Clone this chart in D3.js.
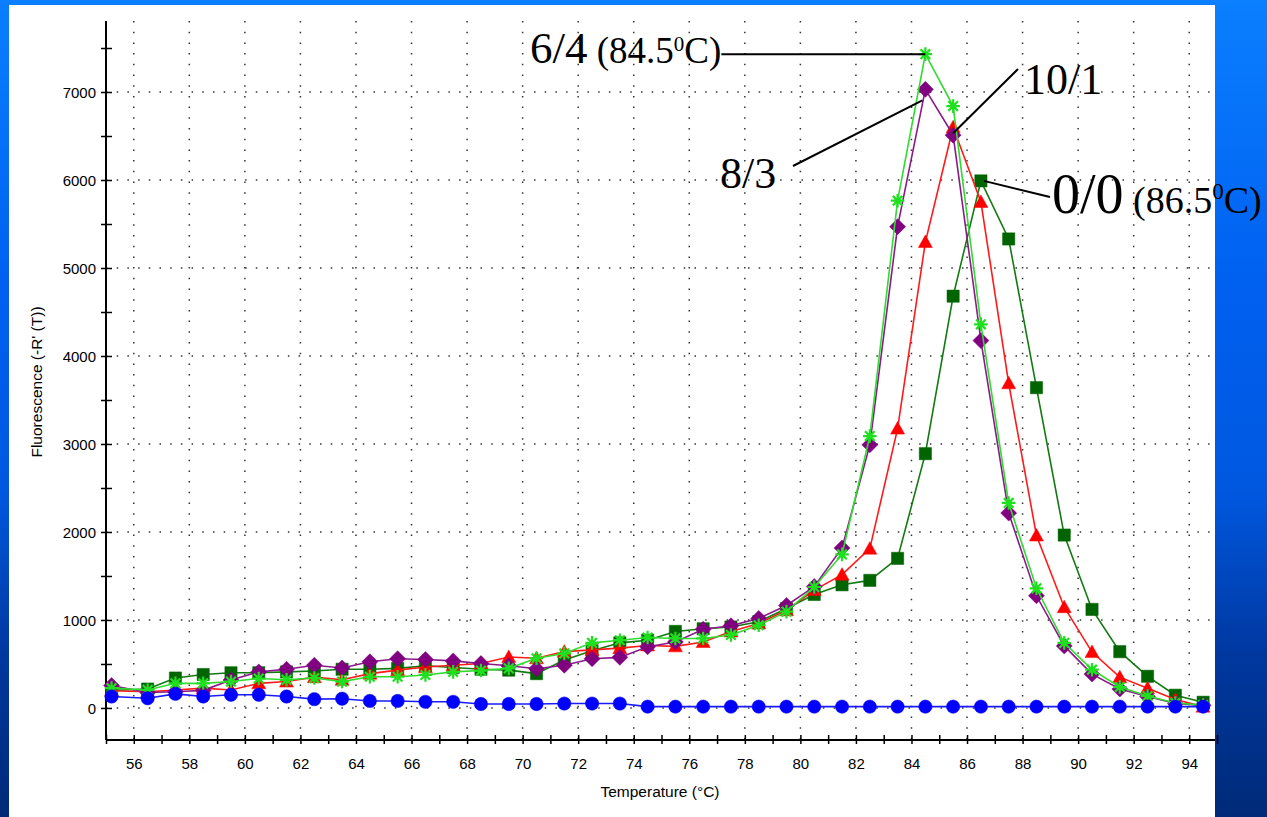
<!DOCTYPE html>
<html>
<head>
<meta charset="utf-8">
<script src="https://cdn.jsdelivr.net/npm/d3@7"></script>
<style>
  html, body { margin: 0; padding: 0; }
  body { width: 1267px; height: 817px; overflow: hidden; }
  svg { display: block; }
  .tick text { font-family: "Liberation Sans", Arial, sans-serif; font-size: 15px; fill: #000; }
  .note { font-family: "Liberation Serif", "Times New Roman", serif; fill: #000; }
</style>
</head>
<body>
<svg id="chart"></svg>
<script>
// melt curve data (-R'(T) vs temperature)
const temps = [55.2, 56.5, 57.5, 58.5, 59.5, 60.5, 61.5, 62.5, 63.5, 64.5,
  65.5, 66.5, 67.5, 68.5, 69.5, 70.5, 71.5, 72.5, 73.5, 74.5,
  75.5, 76.5, 77.5, 78.5, 79.5, 80.5, 81.5, 82.5, 83.5, 84.5,
  85.5, 86.5, 87.5, 88.5, 89.5, 90.5, 91.5, 92.5, 93.5, 94.5];

const blueValues = [130, 110, 160, 130, 150, 150, 130, 100, 105, 80,
  80, 70, 70, 45, 45, 45, 50, 50, 50, 15,
  15, 15, 15, 15, 15, 15, 15, 15, 15, 15,
  15, 15, 15, 15, 15, 15, 15, 15, 15, 15];

const darkGreenValues = [200, 215, 340, 380, 400, 400, 410, 420, 440, 440,
  450, 480, 460, 440, 430, 390, 545, 650, 740, 770,
  870, 900, 920, 980, 1130, 1290, 1400, 1450, 1700, 2890,
  4680, 5990, 5330, 3640, 1965, 1120, 640, 360, 145, 65];

const redValues = [195, 185, 205, 225, 205, 280, 300, 350, 320, 390,
  430, 465, 485, 505, 580, 565, 640, 660, 680, 710,
  700, 750, 870, 960, 1110, 1340, 1515, 1810, 3175, 5295,
  6600, 5750, 3690, 1960, 1145, 635, 350, 225, 95, 15];

const purpleValues = [255, 175, 185, 200, 318, 410, 440, 485, 455, 525,
  560, 550, 535, 505, 480, 445, 485, 560, 575, 695,
  750, 895, 935, 1018, 1165, 1380, 1818, 2990, 5470, 7030,
  6510, 4175, 2215, 1275, 705, 385, 215, 130, 50, 30];

const brightGreenValues = [225, 205, 280, 280, 300, 335, 320, 340, 300, 355,
  355, 375, 410, 425, 450, 565, 620, 740, 770, 800,
  790, 790, 830, 940, 1095, 1375, 1745, 3090, 5765, 7430,
  6840, 4360, 2330, 1360, 740, 435, 238, 136, 57, 32];

const xTicks = [55, 56, 57, 58, 59, 60, 61, 62, 63, 64, 65, 66, 67, 68, 69, 70, 71, 72, 73, 74, 75,
  76, 77, 78, 79, 80, 81, 82, 83, 84, 85, 86, 87, 88, 89, 90, 91, 92, 93, 94, 95];
const xGrid = [56, 58, 60, 62, 64, 66, 68, 70, 72, 74, 76, 78, 80, 82, 84, 86, 88, 90, 92, 94];
const yTicks = [0, 500, 1000, 1500, 2000, 2500, 3000, 3500, 4000, 4500, 5000, 5500, 6000, 6500, 7000, 7500];
const yGrid = [0, 1000, 2000, 3000, 4000, 5000, 6000, 7000];

const series = [
  { name: "0/0", values: darkGreenValues, color: "#006400", line: "#127a12", marker: "square" },
  { name: "10/1", values: redValues, color: "#ff0000", line: "#ff1a1a", marker: "triangle" },
  { name: "8/3", values: purpleValues, color: "#800080", line: "#8a1a8a", marker: "diamond" },
  { name: "6/4", values: brightGreenValues, color: "#1ee01e", line: "#2fdc2f", marker: "star" },
  { name: "blank", values: blueValues, color: "#0000ff", line: "#1a1aff", marker: "circle" },
];

const width = 1267, height = 817;
const svg = d3.select("#chart").attr("width", width).attr("height", height);

// slide background
const defs = svg.append("defs");
const bg = defs.append("linearGradient").attr("id", "bg").attr("x1", 0).attr("y1", 0).attr("x2", 0).attr("y2", 1);
bg.append("stop").attr("offset", "0%").attr("stop-color", "#0a7fff");
bg.append("stop").attr("offset", "35%").attr("stop-color", "#0060f0");
bg.append("stop").attr("offset", "60%").attr("stop-color", "#0058e0");
bg.append("stop").attr("offset", "80%").attr("stop-color", "#0038a0");
bg.append("stop").attr("offset", "100%").attr("stop-color", "#002a78");
svg.append("rect").attr("width", width).attr("height", height).attr("fill", "url(#bg)");
svg.append("rect").attr("x", 9).attr("y", 5).attr("width", 1206).attr("height", 812).attr("fill", "#fff");

const x = d3.scaleLinear().domain([55, 95]).range([106, 1217]);
const y = d3.scaleLinear().domain([-364, 7807]).range([740, 21]);

// dotted grid
const grid = svg.append("g").attr("stroke", "#333").attr("stroke-width", 1.5)
  .attr("stroke-dasharray", "1.5 9.2");
grid.selectAll("line.v").data(xGrid).join("line").attr("class", "v")
  .attr("x1", d => x(d)).attr("x2", d => x(d)).attr("y1", y.range()[1]).attr("y2", y.range()[0]);
grid.selectAll("line.h").data(yGrid).join("line").attr("class", "h")
  .attr("x1", x.range()[0]).attr("x2", 1215).attr("y1", d => y(d)).attr("y2", d => y(d));

// axes
const xAxis = svg.append("g").attr("transform", `translate(0,${y.range()[0]})`)
  .call(d3.axisBottom(x).tickValues(xTicks).tickSize(4).tickPadding(14)
    .tickFormat(d => (d % 2 === 0 && d > 55 && d < 95) ? d : ""));
xAxis.select(".domain").attr("d", `M${x.range()[0]},0H1215`).attr("stroke-width", 2);
xAxis.selectAll(".tick line").attr("y1", -5).attr("stroke-width", 1.5);

const yAxis = svg.append("g").attr("transform", `translate(${x.range()[0]},0)`)
  .call(d3.axisLeft(y).tickValues(yTicks).tickSize(5).tickPadding(5)
    .tickFormat(d => d % 1000 === 0 ? d : ""));
yAxis.select(".domain").attr("d", `M0,${y.range()[1]}V${y.range()[0]}`).attr("stroke-width", 2);
yAxis.selectAll(".tick line").attr("x1", 6).attr("stroke-width", 1.5);
yAxis.selectAll(".tick text").attr("dy", "0.36em");

svg.append("text").attr("transform", "translate(42,382) rotate(-90)")
  .attr("text-anchor", "middle").attr("font-family", "Liberation Sans, Arial, sans-serif")
  .attr("font-size", 15.5).text("Fluorescence (-R' (T))");
svg.append("text").attr("x", 660).attr("y", 797)
  .attr("text-anchor", "middle").attr("font-family", "Liberation Sans, Arial, sans-serif")
  .attr("font-size", 15.5).text("Temperature (°C)");

// curves
const line = d3.line().x(d => x(d[0])).y(d => y(d[1]));

function starPath(r) {
  let p = "";
  for (let i = 0; i < 4; i++) {
    const a = i * Math.PI / 4;
    p += `M${-r * Math.cos(a)},${-r * Math.sin(a)}L${r * Math.cos(a)},${r * Math.sin(a)}`;
  }
  return p;
}

const marks = {
  square: d3.symbol(d3.symbolSquare, 150)(),
  triangle: "M0,-7L7,5.5L-7,5.5Z",
  diamond: "M0,-8L8,0L0,8L-8,0Z",
  circle: d3.symbol(d3.symbolCircle, 140)(),
  star: starPath(6.8),
};

series.forEach(s => {
  const pts = temps.map((t, i) => [t, s.values[i]]);
  const g = svg.append("g");
  g.append("path").datum(pts).attr("d", line)
    .attr("fill", "none").attr("stroke", s.line).attr("stroke-width", 1.6);
  g.selectAll("path.m").data(pts).join("path").attr("class", "m")
    .attr("transform", d => `translate(${x(d[0])},${y(d[1])})`)
    .attr("d", marks[s.marker])
    .attr("fill", s.marker === "star" ? "none" : s.color)
    .attr("stroke", s.color)
    .attr("stroke-width", s.marker === "star" ? 2.2 : 0.5);
});

// annotations
const t64 = svg.append("text").attr("class", "note").attr("x", 530).attr("y", 63);
t64.append("tspan").attr("font-size", 45).text("6/4");
t64.append("tspan").attr("font-size", 37).text(" (84.5");
t64.append("tspan").attr("font-size", 21).attr("dy", -12).text("0");
t64.append("tspan").attr("font-size", 37).attr("dy", 12).text("C)");

svg.append("text").attr("class", "note").attr("x", 1024).attr("y", 94)
  .attr("font-size", 44).text("10/1");
svg.append("text").attr("class", "note").attr("x", 720).attr("y", 188)
  .attr("font-size", 44).text("8/3");

const t00 = svg.append("text").attr("class", "note").attr("x", 1052).attr("y", 213);
t00.append("tspan").attr("font-size", 56).text("0/0");
t00.append("tspan").attr("font-size", 38).text(" (86.5");
t00.append("tspan").attr("font-size", 23).attr("dy", -14).text("0");
t00.append("tspan").attr("font-size", 38).attr("dy", 14).text("C)");

const peak = (vals, t) => [x(t), y(vals[temps.indexOf(t)])];
const notes = svg.append("g").attr("stroke", "#000").attr("stroke-width", 2);
const p64 = peak(brightGreenValues, 84.5);
const b64 = t64.node().getBBox();
notes.append("line").attr("x1", b64.x + b64.width).attr("y1", p64[1]).attr("x2", p64[0]).attr("y2", p64[1]);
const p83 = peak(purpleValues, 84.5);
notes.append("line").attr("x1", 793).attr("y1", 166).attr("x2", p83[0] - 3).attr("y2", p83[1] + 11);
const p101 = peak(redValues, 85.5);
notes.append("line").attr("x1", 1018).attr("y1", 69).attr("x2", p101[0]).attr("y2", p101[1] + 6);
const p00 = peak(darkGreenValues, 86.5);
notes.append("line").attr("x1", p00[0] + 3).attr("y1", p00[1]).attr("x2", 1050).attr("y2", 197);
</script>
</body>
</html>
